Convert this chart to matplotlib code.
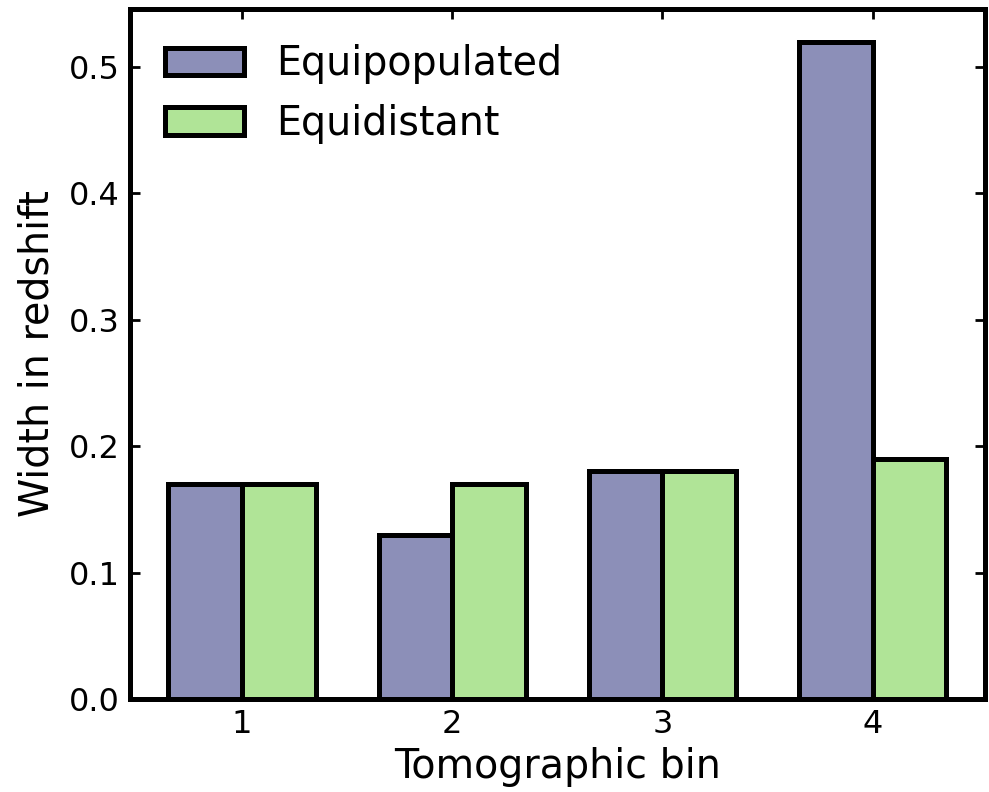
"""Tomographic bin widths"""

import numpy as np
import matplotlib
matplotlib.use("Agg")
import matplotlib.pyplot as plt

bins = [1, 2, 3, 4]
equipopulated = [0.17, 0.13, 0.18, 0.52]
equidistant = [0.17, 0.17, 0.18, 0.19]


def main() -> None:
    """main function"""
    fig, ax = plt.subplots(figsize=(9.89, 7.92), dpi=100)
    x = np.array(bins)
    w = 0.35
    ax.bar(x - w / 2, equipopulated, w, color="#8c8fb8", edgecolor="black",
           linewidth=3.6, label="Equipopulated")
    ax.bar(x + w / 2, equidistant, w, color="#b0e497", edgecolor="black",
           linewidth=3.6, label="Equidistant")
    ax.set_xticks(bins)
    ax.set_xlabel("Tomographic bin", fontsize=28.5, labelpad=5)
    ax.set_ylabel("Width in redshift", fontsize=28.5, labelpad=8)
    ax.tick_params(direction="in", top=True, right=True, length=7, width=2,
                   labelsize=23, pad=7)
    for s in ax.spines.values():
        s.set_linewidth(3.6)
    ax.legend(loc="upper left", frameon=False, fontsize=28.5)
    fig.subplots_adjust(left=0.131, right=0.996, top=0.989, bottom=0.1174)
    fig.savefig("out.png", dpi=100)


if __name__ == "__main__":
    main()
